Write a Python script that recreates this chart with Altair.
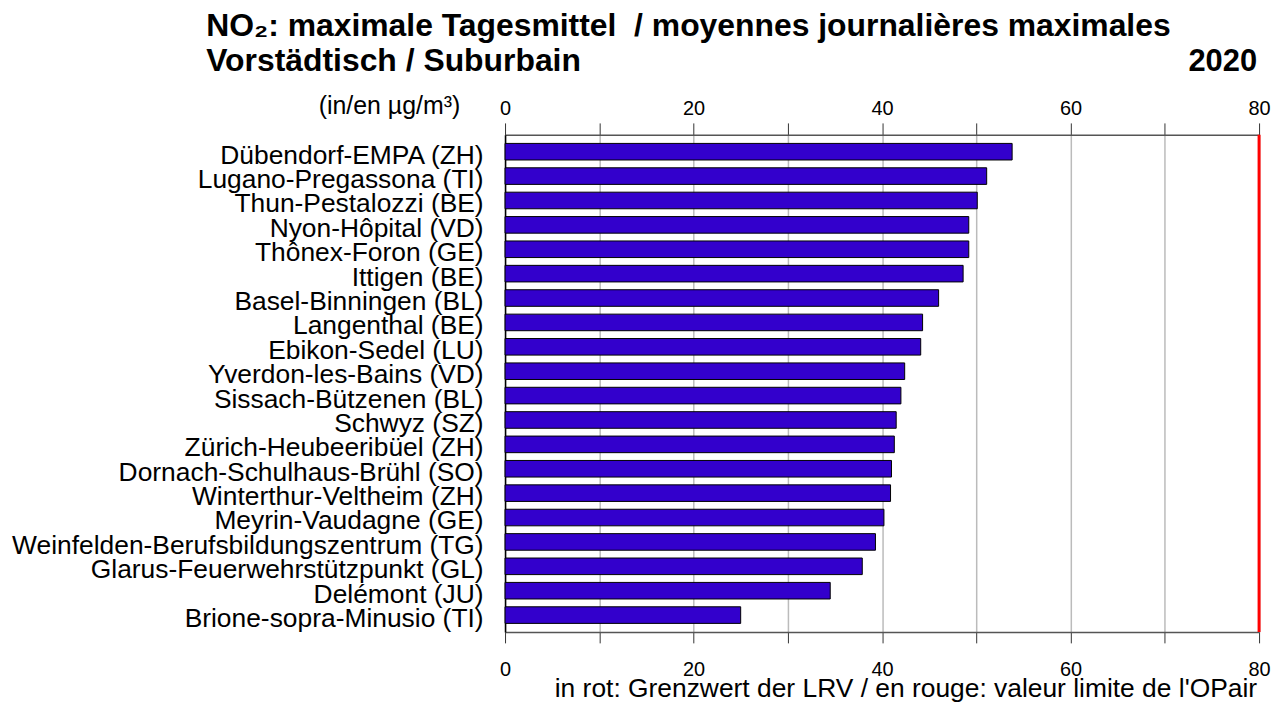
import altair as alt
import pandas as pd

# ---- data ----
STATIONS = [
    "Dübendorf-EMPA (ZH)",
    "Lugano-Pregassona (TI)",
    "Thun-Pestalozzi (BE)",
    "Nyon-Hôpital (VD)",
    "Thônex-Foron (GE)",
    "Ittigen (BE)",
    "Basel-Binningen (BL)",
    "Langenthal (BE)",
    "Ebikon-Sedel (LU)",
    "Yverdon-les-Bains (VD)",
    "Sissach-Bützenen (BL)",
    "Schwyz (SZ)",
    "Zürich-Heubeeribüel (ZH)",
    "Dornach-Schulhaus-Brühl (SO)",
    "Winterthur-Veltheim (ZH)",
    "Meyrin-Vaudagne (GE)",
    "Weinfelden-Berufsbildungszentrum (TG)",
    "Glarus-Feuerwehrstützpunkt (GL)",
    "Delémont (JU)",
    "Brione-sopra-Minusio (TI)",
]
VALUES = [53.8, 51.1, 50.1, 49.2, 49.2, 48.6, 46.0, 44.3, 44.1, 42.4,
          42.0, 41.5, 41.3, 41.0, 40.9, 40.2, 39.3, 37.9, 34.5, 25.0]
LIMIT = [80]
X_TICKS = [0, 10, 20, 30, 40, 50, 60, 70, 80]

TITLE_1 = "NO₂: maximale Tagesmittel\u00a0 / moyennes journalières maximales"
TITLE_2 = "Vorstädtisch / Suburbain"
YEAR = "2020"
UNIT = "(in/en µg/m³)"
FOOTER = "in rot: Grenzwert der LRV / en rouge: valeur limite de l'OPair"

# ---- styling ----
W, H = 757, 499
FONT = "Liberation Sans"
TICK_FS = 20
LABEL_EXPR = "datum.value % 20 === 0 ? datum.label : ''"

df = pd.DataFrame({"station": STATIONS, "value": VALUES})
xscale = alt.Scale(domain=[0, 80], nice=False, zero=True)

bars = alt.Chart(df).mark_bar(
    color="#3300CC", stroke="black", strokeWidth=1
).encode(
    x=alt.X(
        "value:Q",
        scale=xscale,
        axis=alt.Axis(
            orient="bottom", values=X_TICKS, labelExpr=LABEL_EXPR, title=None,
            grid=True, gridColor="#BBBBBB", gridWidth=1.5,
            domainColor="#555555", domainWidth=1.5,
            tickColor="#333333", tickSize=11, tickWidth=1,
            labelPadding=17, labelFontSize=TICK_FS, labelFont=FONT,
            labelColor="black", labelFlush=False, labelOverlap=False,
        ),
    ),
    y=alt.Y(
        "station:N",
        sort=STATIONS,
        scale=alt.Scale(paddingInner=0.32, paddingOuter=0.35),
        axis=alt.Axis(
            title=None, ticks=False, tickSize=0, labelPadding=22,
            labelFontSize=26.5, labelFont=FONT, labelColor="black",
            labelOffset=4, labelLimit=700, domainColor="black", domainWidth=1.5,
        ),
    ),
)

limit = alt.Chart(pd.DataFrame({"limit": LIMIT})).mark_rule(
    color="#FF0000", strokeWidth=3
).encode(
    x=alt.X(
        "limit:Q",
        scale=xscale,
        axis=alt.Axis(
            orient="top", values=X_TICKS, labelExpr=LABEL_EXPR, title=None,
            grid=False, domainColor="#555555", domainWidth=1.5,
            tickColor="#333333", tickSize=12, tickWidth=1,
            labelPadding=4, labelFontSize=TICK_FS, labelFont=FONT,
            labelColor="black", labelFlush=False, labelOverlap=False,
        ),
    )
)


def text_layer(text, x, y, size, weight="normal", align="left"):
    return alt.Chart(alt.Data(values=[{"t": text}])).mark_text(
        align=align, baseline="alphabetic", fontSize=size,
        fontWeight=weight, font=FONT, color="black",
    ).encode(x=alt.value(x), y=alt.value(y), text="t:N")


t1 = text_layer(TITLE_1, -300, -99, 32, weight="bold")
t2 = text_layer(TITLE_2, -300, -64, 32, weight="bold")
year = text_layer(YEAR, W - 2, -64, 31, weight="bold", align="right")
unit = text_layer(UNIT, -45, -21, 25, align="right")
footer = text_layer(FOOTER, W - 2, 564, 26.5, align="right")

chart = (
    alt.layer(bars, limit, t1, t2, year, unit, footer)
    .resolve_axis(x="independent")
    .properties(
        width=W,
        height=H,
        autosize=alt.AutoSizeParams(type="none"),
        padding={"left": 499, "top": 126, "right": 20, "bottom": 72},
    )
    .configure_axisX(labelFontSize=TICK_FS, labelFont=FONT)
    .configure_view(stroke=None)
)

chart.save("out.html", embed_options={"renderer": "svg", "actions": False})
